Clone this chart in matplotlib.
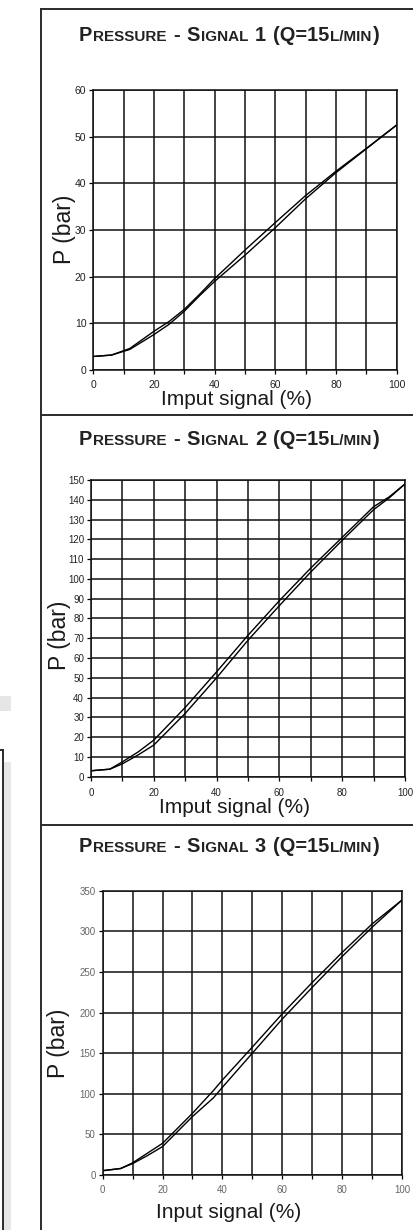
import matplotlib
matplotlib.use("Agg")
import matplotlib.pyplot as plt
from matplotlib.lines import Line2D
from matplotlib.patches import Rectangle

W, H = 414, 1230

# ---- data ----
x1 = [0, 6, 12, 20, 25, 30, 35, 40, 50, 60, 70, 80, 90, 100]
p1_up = [2.9, 3.2, 4.6, 8.3, 10.4, 13.0, 16.2, 19.6, 25.7, 31.6, 37.4, 42.6, 47.5, 52.5]
p1_down = [2.9, 3.2, 4.4, 7.6, 9.8, 12.6, 15.9, 19.0, 24.6, 30.5, 36.7, 42.3, 47.4, 52.5]

x2 = [0, 6, 10, 15, 20, 30, 40, 50, 60, 70, 80, 90, 95, 100]
p2_up = [3.0, 3.8, 7.5, 12.5, 18.5, 35.0, 53.0, 71.5, 89.0, 105.5, 121.0, 136.5, 141.5, 148.0]
p2_down = [3.0, 3.8, 6.5, 11.0, 16.0, 32.0, 50.0, 69.0, 86.5, 103.5, 119.5, 135.0, 141.0, 148.0]

x3 = [0, 6, 10, 15, 20, 30, 37, 40, 50, 60, 70, 80, 90, 100]
p3_up = [5.3, 8.0, 15.0, 27, 39, 76, 104, 117, 157.5, 198.5, 237, 274, 309, 338.5]
p3_down = [5.3, 8.0, 14.0, 24, 35, 72, 95, 108, 150, 192, 231, 269, 305, 338.5]

x_ticks = list(range(0, 101, 10))
x_tick_labels = [str(v) if v % 20 == 0 else "" for v in x_ticks]

titles = [
    [("P", 0), ("RESSURE", 1), (" ", 0), ("-", 0), (" ", 0), ("S", 0), ("IGNAL", 1),
     (" ", 0), ("1", 0), (" ", 0), ("(Q=15", 0), ("L/MIN", 1), (")", 0)],
    [("P", 0), ("RESSURE", 1), (" ", 0), ("-", 0), (" ", 0), ("S", 0), ("IGNAL", 1),
     (" ", 0), ("2", 0), (" ", 0), ("(Q=15", 0), ("L/MIN", 1), (")", 0)],
    [("P", 0), ("RESSURE", 1), (" ", 0), ("-", 0), (" ", 0), ("S", 0), ("IGNAL", 1),
     (" ", 0), ("3", 0), (" ", 0), ("(Q=15", 0), ("L/MIN", 1), (")", 0)],
]
xlabels = ["Imput signal (%)", "Imput signal (%)", "Input signal (%)"]
ylabel = "P (bar)"

plt.rcParams['font.family'] = ['Liberation Sans', 'DejaVu Sans']

fig = plt.figure(figsize=(W / 100, H / 100), dpi=100)
fig.patch.set_facecolor("white")


def fx(px):
    return px / W


def fy(py):
    return 1 - py / H


# ---- page frame lines and left-hand decorations ----
frame = "#2b2b2b"
fig.add_artist(Line2D([fx(41), fx(41)], [fy(9), fy(1230)], color=frame, lw=1.4))
for yy in (9, 415, 825):
    fig.add_artist(Line2D([fx(41), fx(414)], [fy(yy), fy(yy)], color=frame, lw=1.4))
fig.add_artist(Rectangle((0, fy(711)), fx(11), fy(696) - fy(711), color="#e6e6e7", lw=0))
fig.add_artist(Rectangle((fx(3), 0), fx(8), fy(762), color="#e6e6e7", lw=0))
fig.add_artist(Line2D([0, fx(3)], [fy(750), fy(750)], color=frame, lw=1.4))
fig.add_artist(Line2D([fx(3), fx(3)], [fy(750), 0], color=frame, lw=1.4))

panels = [
    dict(box=(93.3, 90, 396.7, 370), x=x1, up=p1_up, down=p1_down, ymax=60, ystep=10,
         tsize=7.5, tcol="#222222", title_base=41, xl=(237, 405), yl=(65, 229), xpad=4),
    dict(box=(91, 480, 405, 776.7), x=x2, up=p2_up, down=p2_down, ymax=150, ystep=10,
         tsize=7, tcol="#222222", title_base=445, xl=(235, 813), yl=(60, 635), xpad=5),
    dict(box=(102.7, 890.7, 402, 1175), x=x3, up=p3_up, down=p3_down, ymax=350, ystep=50,
         tsize=7, tcol="#666666", title_base=852, xl=(229, 1218), yl=(58, 1043), xpad=4.5),
]

renderer = fig.canvas.get_renderer()

for i, p in enumerate(panels):
    l, t, r, b = p["box"]
    ax = fig.add_axes([fx(l), fy(b), (r - l) / W, (b - t) / H])
    ax.plot(p["x"], p["up"], color="black", lw=1.0)
    ax.plot(p["x"], p["down"], color="black", lw=1.0)
    ax.set_xlim(0, 100)
    ax.set_ylim(0, p["ymax"])
    ax.set_xticks(x_ticks)
    ax.set_xticklabels(x_tick_labels)
    ax.set_yticks(list(range(0, p["ymax"] + 1, p["ystep"])))
    ax.grid(True, color="#111111", lw=1.1)
    ax.set_axisbelow(True)
    for s in ax.spines.values():
        s.set_linewidth(1.1)
        s.set_color("#111111")
    ax.tick_params(axis="both", direction="out", length=3, width=0.9,
                   labelsize=p["tsize"], labelcolor=p["tcol"])
    ax.tick_params(axis="y", pad=2)
    ax.tick_params(axis="x", pad=p["xpad"])

    # axis labels
    fig.text(fx(p["xl"][0]), fy(p["xl"][1]), xlabels[i], fontsize=15,
             ha="center", va="baseline", color="#1a1a1a")
    fig.text(fx(p["yl"][0]), fy(p["yl"][1]), ylabel, fontsize=16.5, rotation=90,
             ha="center", va="center", color="#1a1a1a")

    # small-caps title built from pieces
    big = 14.4
    pieces = []
    total = 0
    for txt, small in titles[i]:
        size = big * (0.76 if small else 1.0)
        if txt == " ":
            w = 0.278 * big * 100 / 72
            pieces.append((None, w))
        else:
            tt = fig.text(0, fy(p["title_base"]), txt, fontsize=size, fontweight="bold",
                          ha="left", va="baseline", color="#222222")
            w = tt.get_window_extent(renderer).width + 1.2
            pieces.append((tt, w))
        total += w
    xpos = 229.5 - total / 2
    for tt, w in pieces:
        if tt is not None:
            tt.set_x(fx(xpos))
        xpos += w

fig.savefig("out.png", dpi=100, facecolor="white")
